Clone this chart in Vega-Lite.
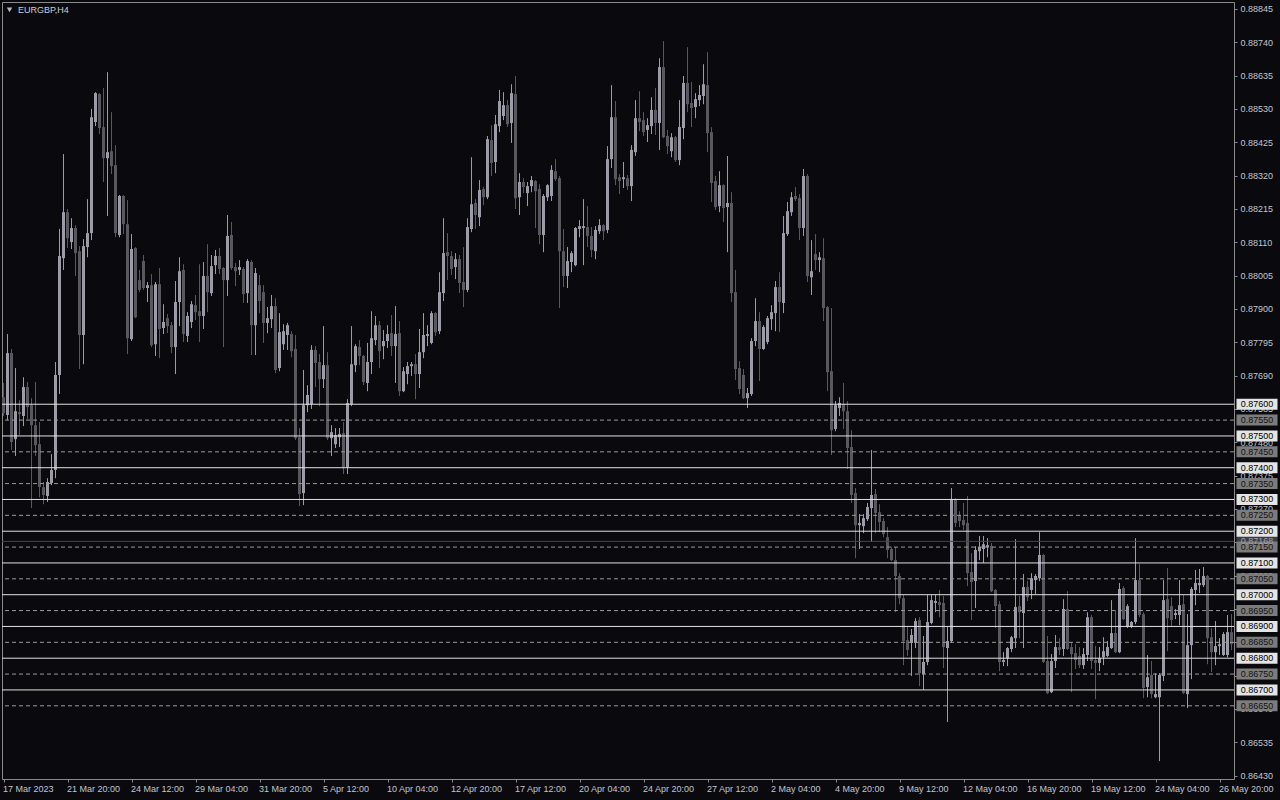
{
"$schema": "https://vega.github.io/schema/vega-lite/v6.json",
"width": 1232, "height": 777,
"autosize": {"type": "none"},
"padding": {"left": 2, "top": 2, "right": 46, "bottom": 21},
"background": "#0a0a0e",
"config": {
 "view": {"stroke": "#8a8a8a", "fill": "#0a0a0e"},
 "font": "Liberation Sans",
 "scale": {"continuousPadding": 0},
 "axis": {"labelOverlap": false, "labelFlush": false, "labelBound": false, "labelFontSize": 9, "labelColor": "#c0c6d0", "tickSize": 3, "tickColor": "#8a8a8a", "domain": false, "grid": false}
},
"datasets": {
"k": [
{"i":0,"o":0.87622,"h":0.87667,"l":0.87563,"c":0.87572},
{"i":1,"o":0.87566,"h":0.87821,"l":0.87550,"c":0.87761},
{"i":2,"o":0.87761,"h":0.87774,"l":0.87456,"c":0.87481},
{"i":3,"o":0.87490,"h":0.87714,"l":0.87437,"c":0.87578},
{"i":4,"o":0.87575,"h":0.87613,"l":0.87503,"c":0.87569},
{"i":5,"o":0.87563,"h":0.87685,"l":0.87531,"c":0.87654},
{"i":6,"o":0.87654,"h":0.87670,"l":0.87553,"c":0.87591},
{"i":7,"o":0.87597,"h":0.87619,"l":0.87273,"c":0.87534},
{"i":8,"o":0.87534,"h":0.87670,"l":0.87437,"c":0.87471},
{"i":9,"o":0.87474,"h":0.87544,"l":0.87307,"c":0.87339},
{"i":10,"o":0.87339,"h":0.87355,"l":0.87285,"c":0.87314},
{"i":11,"o":0.87311,"h":0.87367,"l":0.87292,"c":0.87355},
{"i":12,"o":0.87352,"h":0.87443,"l":0.87345,"c":0.87393},
{"i":13,"o":0.87393,"h":0.87733,"l":0.87367,"c":0.87692},
{"i":14,"o":0.87692,"h":0.88152,"l":0.87632,"c":0.88067},
{"i":15,"o":0.88060,"h":0.88388,"l":0.88023,"c":0.88205},
{"i":16,"o":0.88205,"h":0.88215,"l":0.88092,"c":0.88123},
{"i":17,"o":0.88111,"h":0.88186,"l":0.88089,"c":0.88155},
{"i":18,"o":0.88155,"h":0.88164,"l":0.88004,"c":0.88076},
{"i":19,"o":0.88082,"h":0.88098,"l":0.87711,"c":0.87818},
{"i":20,"o":0.87818,"h":0.88120,"l":0.87726,"c":0.88098},
{"i":21,"o":0.88095,"h":0.88246,"l":0.88063,"c":0.88139},
{"i":22,"o":0.88139,"h":0.88530,"l":0.88117,"c":0.88504},
{"i":23,"o":0.88489,"h":0.88583,"l":0.88476,"c":0.88580},
{"i":24,"o":0.88577,"h":0.88580,"l":0.88451,"c":0.88470},
{"i":25,"o":0.88473,"h":0.88596,"l":0.88300,"c":0.88375},
{"i":26,"o":0.88375,"h":0.88646,"l":0.88193,"c":0.88394},
{"i":27,"o":0.88397,"h":0.88520,"l":0.88325,"c":0.88350},
{"i":28,"o":0.88353,"h":0.88416,"l":0.88126,"c":0.88139},
{"i":29,"o":0.88133,"h":0.88259,"l":0.88126,"c":0.88256},
{"i":30,"o":0.88256,"h":0.88259,"l":0.88136,"c":0.88167},
{"i":31,"o":0.88167,"h":0.88243,"l":0.87758,"c":0.87808},
{"i":32,"o":0.87805,"h":0.88136,"l":0.87799,"c":0.88089},
{"i":33,"o":0.88092,"h":0.88095,"l":0.87871,"c":0.87874},
{"i":34,"o":0.87991,"h":0.88023,"l":0.87953,"c":0.87960},
{"i":35,"o":0.88051,"h":0.88070,"l":0.87960,"c":0.87966},
{"i":36,"o":0.87966,"h":0.87985,"l":0.87922,"c":0.87975},
{"i":37,"o":0.87975,"h":0.88010,"l":0.87780,"c":0.87786},
{"i":38,"o":0.87789,"h":0.87985,"l":0.87752,"c":0.87978},
{"i":39,"o":0.87978,"h":0.88029,"l":0.87745,"c":0.87837},
{"i":40,"o":0.87840,"h":0.87915,"l":0.87821,"c":0.87859},
{"i":41,"o":0.87871,"h":0.87884,"l":0.87824,"c":0.87846},
{"i":42,"o":0.87849,"h":0.87859,"l":0.87761,"c":0.87780},
{"i":43,"o":0.87780,"h":0.87988,"l":0.87695,"c":0.87922},
{"i":44,"o":0.87922,"h":0.88063,"l":0.87846,"c":0.88019},
{"i":45,"o":0.88023,"h":0.88041,"l":0.87796,"c":0.87821},
{"i":46,"o":0.87815,"h":0.87890,"l":0.87796,"c":0.87878},
{"i":47,"o":0.87859,"h":0.87925,"l":0.87840,"c":0.87915},
{"i":48,"o":0.87912,"h":0.87944,"l":0.87865,"c":0.87890},
{"i":49,"o":0.87893,"h":0.88041,"l":0.87796,"c":0.87878},
{"i":50,"o":0.87878,"h":0.88048,"l":0.87837,"c":0.88004},
{"i":51,"o":0.88004,"h":0.88104,"l":0.87890,"c":0.87953},
{"i":52,"o":0.87950,"h":0.88070,"l":0.87941,"c":0.88035},
{"i":53,"o":0.88038,"h":0.88086,"l":0.88010,"c":0.88067},
{"i":54,"o":0.88067,"h":0.88092,"l":0.88010,"c":0.88026},
{"i":55,"o":0.88029,"h":0.88032,"l":0.87780,"c":0.87991},
{"i":56,"o":0.87991,"h":0.88196,"l":0.87941,"c":0.88130},
{"i":57,"o":0.88133,"h":0.88174,"l":0.88023,"c":0.88029},
{"i":58,"o":0.88032,"h":0.88045,"l":0.87972,"c":0.88019},
{"i":59,"o":0.88023,"h":0.88054,"l":0.88007,"c":0.88032},
{"i":60,"o":0.88026,"h":0.88032,"l":0.87919,"c":0.87947},
{"i":61,"o":0.87950,"h":0.88057,"l":0.87919,"c":0.88051},
{"i":62,"o":0.88048,"h":0.88054,"l":0.87755,"c":0.87849},
{"i":63,"o":0.87849,"h":0.88029,"l":0.87755,"c":0.88013},
{"i":64,"o":0.87975,"h":0.88007,"l":0.87887,"c":0.87925},
{"i":65,"o":0.87953,"h":0.87975,"l":0.87793,"c":0.87856},
{"i":66,"o":0.87856,"h":0.87906,"l":0.87824,"c":0.87871},
{"i":67,"o":0.87868,"h":0.87944,"l":0.87840,"c":0.87909},
{"i":68,"o":0.87909,"h":0.87934,"l":0.87698,"c":0.87708},
{"i":69,"o":0.87714,"h":0.87887,"l":0.87704,"c":0.87827},
{"i":70,"o":0.87789,"h":0.87852,"l":0.87771,"c":0.87830},
{"i":71,"o":0.87818,"h":0.87856,"l":0.87771,"c":0.87849},
{"i":72,"o":0.87821,"h":0.87830,"l":0.87748,"c":0.87767},
{"i":73,"o":0.87774,"h":0.87818,"l":0.87487,"c":0.87493},
{"i":74,"o":0.87496,"h":0.87525,"l":0.87279,"c":0.87317},
{"i":75,"o":0.87320,"h":0.87708,"l":0.87282,"c":0.87597},
{"i":76,"o":0.87597,"h":0.87660,"l":0.87575,"c":0.87629},
{"i":77,"o":0.87600,"h":0.87786,"l":0.87585,"c":0.87771},
{"i":78,"o":0.87771,"h":0.87783,"l":0.87654,"c":0.87730},
{"i":79,"o":0.87733,"h":0.87758,"l":0.87594,"c":0.87679},
{"i":80,"o":0.87679,"h":0.87846,"l":0.87651,"c":0.87723},
{"i":81,"o":0.87723,"h":0.87764,"l":0.87487,"c":0.87493},
{"i":82,"o":0.87493,"h":0.87534,"l":0.87437,"c":0.87512},
{"i":83,"o":0.87474,"h":0.87525,"l":0.87462,"c":0.87503},
{"i":84,"o":0.87496,"h":0.87525,"l":0.87465,"c":0.87506},
{"i":85,"o":0.87509,"h":0.87544,"l":0.87380,"c":0.87402},
{"i":86,"o":0.87402,"h":0.87616,"l":0.87380,"c":0.87604},
{"i":87,"o":0.87600,"h":0.87846,"l":0.87594,"c":0.87726},
{"i":88,"o":0.87723,"h":0.87789,"l":0.87701,"c":0.87783},
{"i":89,"o":0.87780,"h":0.87802,"l":0.87723,"c":0.87752},
{"i":90,"o":0.87752,"h":0.87755,"l":0.87660,"c":0.87670},
{"i":91,"o":0.87667,"h":0.87793,"l":0.87641,"c":0.87733},
{"i":92,"o":0.87733,"h":0.87893,"l":0.87695,"c":0.87808},
{"i":93,"o":0.87802,"h":0.87878,"l":0.87786,"c":0.87849},
{"i":94,"o":0.87849,"h":0.87862,"l":0.87714,"c":0.87767},
{"i":95,"o":0.87783,"h":0.87834,"l":0.87742,"c":0.87799},
{"i":96,"o":0.87799,"h":0.87849,"l":0.87777,"c":0.87821},
{"i":97,"o":0.87824,"h":0.87881,"l":0.87752,"c":0.87783},
{"i":98,"o":0.87783,"h":0.87909,"l":0.87667,"c":0.87821},
{"i":99,"o":0.87824,"h":0.87862,"l":0.87626,"c":0.87641},
{"i":100,"o":0.87641,"h":0.87717,"l":0.87638,"c":0.87704},
{"i":101,"o":0.87695,"h":0.87733,"l":0.87663,"c":0.87720},
{"i":102,"o":0.87720,"h":0.87733,"l":0.87689,"c":0.87726},
{"i":103,"o":0.87726,"h":0.87758,"l":0.87616,"c":0.87695},
{"i":104,"o":0.87695,"h":0.87837,"l":0.87651,"c":0.87764},
{"i":105,"o":0.87764,"h":0.87887,"l":0.87745,"c":0.87818},
{"i":106,"o":0.87815,"h":0.87849,"l":0.87783,"c":0.87821},
{"i":107,"o":0.87793,"h":0.87893,"l":0.87789,"c":0.87887},
{"i":108,"o":0.87887,"h":0.87890,"l":0.87815,"c":0.87827},
{"i":109,"o":0.87830,"h":0.88016,"l":0.87821,"c":0.87953},
{"i":110,"o":0.87950,"h":0.88186,"l":0.87925,"c":0.88076},
{"i":111,"o":0.88079,"h":0.88139,"l":0.87991,"c":0.88067},
{"i":112,"o":0.88067,"h":0.88082,"l":0.88007,"c":0.88026},
{"i":113,"o":0.88032,"h":0.88076,"l":0.87994,"c":0.88057},
{"i":114,"o":0.88057,"h":0.88070,"l":0.87950,"c":0.87982},
{"i":115,"o":0.87985,"h":0.88095,"l":0.87906,"c":0.87960},
{"i":116,"o":0.87960,"h":0.88186,"l":0.87953,"c":0.88158},
{"i":117,"o":0.88152,"h":0.88378,"l":0.88142,"c":0.88230},
{"i":118,"o":0.88234,"h":0.88246,"l":0.88152,"c":0.88196},
{"i":119,"o":0.88189,"h":0.88306,"l":0.88161,"c":0.88275},
{"i":120,"o":0.88278,"h":0.88284,"l":0.88227,"c":0.88252},
{"i":121,"o":0.88252,"h":0.88445,"l":0.88246,"c":0.88435},
{"i":122,"o":0.88432,"h":0.88479,"l":0.88319,"c":0.88360},
{"i":123,"o":0.88363,"h":0.88511,"l":0.88328,"c":0.88482},
{"i":124,"o":0.88476,"h":0.88590,"l":0.88457,"c":0.88555},
{"i":125,"o":0.88508,"h":0.88583,"l":0.88495,"c":0.88542},
{"i":126,"o":0.88542,"h":0.88558,"l":0.88473,"c":0.88482},
{"i":127,"o":0.88486,"h":0.88608,"l":0.88423,"c":0.88580},
{"i":128,"o":0.88577,"h":0.88634,"l":0.88215,"c":0.88249},
{"i":129,"o":0.88252,"h":0.88328,"l":0.88196,"c":0.88300},
{"i":130,"o":0.88300,"h":0.88312,"l":0.88265,"c":0.88284},
{"i":131,"o":0.88265,"h":0.88300,"l":0.88224,"c":0.88287},
{"i":132,"o":0.88287,"h":0.88319,"l":0.88268,"c":0.88306},
{"i":133,"o":0.88303,"h":0.88306,"l":0.88155,"c":0.88271},
{"i":134,"o":0.88278,"h":0.88293,"l":0.88104,"c":0.88133},
{"i":135,"o":0.88133,"h":0.88262,"l":0.88079,"c":0.88256},
{"i":136,"o":0.88252,"h":0.88293,"l":0.88240,"c":0.88290},
{"i":137,"o":0.88256,"h":0.88353,"l":0.88240,"c":0.88338},
{"i":138,"o":0.88334,"h":0.88372,"l":0.88303,"c":0.88309},
{"i":139,"o":0.88312,"h":0.88319,"l":0.87903,"c":0.88082},
{"i":140,"o":0.88082,"h":0.88152,"l":0.87969,"c":0.88004},
{"i":141,"o":0.88004,"h":0.88095,"l":0.87966,"c":0.88051},
{"i":142,"o":0.88048,"h":0.88082,"l":0.88016,"c":0.88076},
{"i":143,"o":0.88038,"h":0.88158,"l":0.88035,"c":0.88155},
{"i":144,"o":0.88152,"h":0.88180,"l":0.88126,"c":0.88161},
{"i":145,"o":0.88155,"h":0.88246,"l":0.88038,"c":0.88161},
{"i":146,"o":0.88158,"h":0.88224,"l":0.88095,"c":0.88130},
{"i":147,"o":0.88130,"h":0.88158,"l":0.88063,"c":0.88086},
{"i":148,"o":0.88082,"h":0.88161,"l":0.88057,"c":0.88149},
{"i":149,"o":0.88145,"h":0.88183,"l":0.88136,"c":0.88164},
{"i":150,"o":0.88164,"h":0.88167,"l":0.88117,"c":0.88145},
{"i":151,"o":0.88149,"h":0.88413,"l":0.88139,"c":0.88372},
{"i":152,"o":0.88372,"h":0.88605,"l":0.88344,"c":0.88504},
{"i":153,"o":0.88504,"h":0.88555,"l":0.88290,"c":0.88309},
{"i":154,"o":0.88315,"h":0.88325,"l":0.88262,"c":0.88303},
{"i":155,"o":0.88309,"h":0.88363,"l":0.88281,"c":0.88315},
{"i":156,"o":0.88312,"h":0.88322,"l":0.88275,"c":0.88287},
{"i":157,"o":0.88287,"h":0.88416,"l":0.88240,"c":0.88401},
{"i":158,"o":0.88394,"h":0.88558,"l":0.88382,"c":0.88501},
{"i":159,"o":0.88501,"h":0.88586,"l":0.88460,"c":0.88489},
{"i":160,"o":0.88495,"h":0.88520,"l":0.88445,"c":0.88457},
{"i":161,"o":0.88464,"h":0.88501,"l":0.88426,"c":0.88479},
{"i":162,"o":0.88476,"h":0.88567,"l":0.88451,"c":0.88527},
{"i":163,"o":0.88527,"h":0.88596,"l":0.88448,"c":0.88486},
{"i":164,"o":0.88486,"h":0.88690,"l":0.88401,"c":0.88662},
{"i":165,"o":0.88662,"h":0.88744,"l":0.88438,"c":0.88441},
{"i":166,"o":0.88445,"h":0.88464,"l":0.88388,"c":0.88413},
{"i":167,"o":0.88397,"h":0.88454,"l":0.88378,"c":0.88441},
{"i":168,"o":0.88441,"h":0.88445,"l":0.88363,"c":0.88369},
{"i":169,"o":0.88369,"h":0.88558,"l":0.88353,"c":0.88473},
{"i":170,"o":0.88470,"h":0.88634,"l":0.88435,"c":0.88612},
{"i":171,"o":0.88612,"h":0.88725,"l":0.88520,"c":0.88545},
{"i":172,"o":0.88549,"h":0.88615,"l":0.88473,"c":0.88533},
{"i":173,"o":0.88536,"h":0.88580,"l":0.88501,"c":0.88561},
{"i":174,"o":0.88558,"h":0.88605,"l":0.88539,"c":0.88574},
{"i":175,"o":0.88571,"h":0.88671,"l":0.88545,"c":0.88608},
{"i":176,"o":0.88605,"h":0.88709,"l":0.88394,"c":0.88454},
{"i":177,"o":0.88457,"h":0.88473,"l":0.88237,"c":0.88297},
{"i":178,"o":0.88303,"h":0.88319,"l":0.88212,"c":0.88221},
{"i":179,"o":0.88224,"h":0.88334,"l":0.88205,"c":0.88290},
{"i":180,"o":0.88290,"h":0.88293,"l":0.88174,"c":0.88218},
{"i":181,"o":0.88221,"h":0.88382,"l":0.88079,"c":0.88234},
{"i":182,"o":0.88234,"h":0.88268,"l":0.87922,"c":0.87950},
{"i":183,"o":0.87953,"h":0.88023,"l":0.87676,"c":0.87711},
{"i":184,"o":0.87714,"h":0.87736,"l":0.87632,"c":0.87648},
{"i":185,"o":0.87692,"h":0.87711,"l":0.87616,"c":0.87619},
{"i":186,"o":0.87619,"h":0.87651,"l":0.87588,"c":0.87635},
{"i":187,"o":0.87632,"h":0.87808,"l":0.87626,"c":0.87799},
{"i":188,"o":0.87799,"h":0.87934,"l":0.87783,"c":0.87862},
{"i":189,"o":0.87862,"h":0.87890,"l":0.87673,"c":0.87774},
{"i":190,"o":0.87774,"h":0.87849,"l":0.87771,"c":0.87843},
{"i":191,"o":0.87796,"h":0.87878,"l":0.87789,"c":0.87871},
{"i":192,"o":0.87868,"h":0.87912,"l":0.87834,"c":0.87890},
{"i":193,"o":0.87887,"h":0.87988,"l":0.87830,"c":0.87969},
{"i":194,"o":0.87969,"h":0.88016,"l":0.87827,"c":0.87922},
{"i":195,"o":0.87919,"h":0.88193,"l":0.87887,"c":0.88139},
{"i":196,"o":0.88136,"h":0.88237,"l":0.88130,"c":0.88208},
{"i":197,"o":0.88205,"h":0.88268,"l":0.88193,"c":0.88252},
{"i":198,"o":0.88256,"h":0.88284,"l":0.88240,"c":0.88246},
{"i":199,"o":0.88249,"h":0.88262,"l":0.88117,"c":0.88155},
{"i":200,"o":0.88155,"h":0.88341,"l":0.88130,"c":0.88319},
{"i":201,"o":0.88319,"h":0.88325,"l":0.87985,"c":0.88004},
{"i":202,"o":0.88000,"h":0.88117,"l":0.87944,"c":0.88019},
{"i":203,"o":0.88073,"h":0.88136,"l":0.88023,"c":0.88054},
{"i":204,"o":0.88054,"h":0.88079,"l":0.88016,"c":0.88063},
{"i":205,"o":0.88060,"h":0.88123,"l":0.87862,"c":0.87903},
{"i":206,"o":0.87906,"h":0.87909,"l":0.87641,"c":0.87701},
{"i":207,"o":0.87704,"h":0.87903,"l":0.87440,"c":0.87518},
{"i":208,"o":0.87522,"h":0.87610,"l":0.87515,"c":0.87597},
{"i":209,"o":0.87588,"h":0.87622,"l":0.87563,"c":0.87604},
{"i":210,"o":0.87600,"h":0.87667,"l":0.87522,"c":0.87578},
{"i":211,"o":0.87578,"h":0.87610,"l":0.87396,"c":0.87462},
{"i":212,"o":0.87465,"h":0.87518,"l":0.87289,"c":0.87314},
{"i":213,"o":0.87320,"h":0.87336,"l":0.87115,"c":0.87219},
{"i":214,"o":0.87219,"h":0.87254,"l":0.87144,"c":0.87226},
{"i":215,"o":0.87216,"h":0.87254,"l":0.87194,"c":0.87241},
{"i":216,"o":0.87238,"h":0.87289,"l":0.87232,"c":0.87276},
{"i":217,"o":0.87273,"h":0.87456,"l":0.87166,"c":0.87314},
{"i":218,"o":0.87317,"h":0.87333,"l":0.87194,"c":0.87257},
{"i":219,"o":0.87260,"h":0.87285,"l":0.87197,"c":0.87229},
{"i":220,"o":0.87232,"h":0.87241,"l":0.87181,"c":0.87191},
{"i":221,"o":0.87181,"h":0.87213,"l":0.87115,"c":0.87141},
{"i":222,"o":0.87144,"h":0.87150,"l":0.87106,"c":0.87109},
{"i":223,"o":0.87109,"h":0.87150,"l":0.86945,"c":0.87059},
{"i":224,"o":0.87059,"h":0.87068,"l":0.86970,"c":0.86989},
{"i":225,"o":0.86989,"h":0.86999,"l":0.86778,"c":0.86854},
{"i":226,"o":0.86857,"h":0.86898,"l":0.86807,"c":0.86826},
{"i":227,"o":0.86848,"h":0.86892,"l":0.86744,"c":0.86873},
{"i":228,"o":0.86848,"h":0.86926,"l":0.86832,"c":0.86917},
{"i":229,"o":0.86920,"h":0.86929,"l":0.86712,"c":0.86753},
{"i":230,"o":0.86750,"h":0.86870,"l":0.86700,"c":0.86788},
{"i":231,"o":0.86788,"h":0.86999,"l":0.86778,"c":0.86914},
{"i":232,"o":0.86911,"h":0.86999,"l":0.86907,"c":0.86983},
{"i":233,"o":0.86974,"h":0.86999,"l":0.86945,"c":0.86980},
{"i":234,"o":0.86977,"h":0.87015,"l":0.86929,"c":0.86967},
{"i":235,"o":0.86974,"h":0.86996,"l":0.86769,"c":0.86835},
{"i":236,"o":0.86832,"h":0.86898,"l":0.86599,"c":0.86854},
{"i":237,"o":0.86854,"h":0.87336,"l":0.86848,"c":0.87301},
{"i":238,"o":0.87301,"h":0.87304,"l":0.87213,"c":0.87226},
{"i":239,"o":0.87251,"h":0.87263,"l":0.87213,"c":0.87232},
{"i":240,"o":0.87235,"h":0.87289,"l":0.87204,"c":0.87219},
{"i":241,"o":0.87226,"h":0.87311,"l":0.87027,"c":0.87068},
{"i":242,"o":0.87071,"h":0.87131,"l":0.86920,"c":0.87040},
{"i":243,"o":0.87043,"h":0.87153,"l":0.86958,"c":0.87141},
{"i":244,"o":0.87137,"h":0.87185,"l":0.87109,"c":0.87150},
{"i":245,"o":0.87144,"h":0.87185,"l":0.87100,"c":0.87159},
{"i":246,"o":0.87150,"h":0.87178,"l":0.87118,"c":0.87156},
{"i":247,"o":0.87153,"h":0.87163,"l":0.87008,"c":0.87011},
{"i":248,"o":0.87015,"h":0.87018,"l":0.86895,"c":0.86964},
{"i":249,"o":0.86970,"h":0.86980,"l":0.86759,"c":0.86788},
{"i":250,"o":0.86788,"h":0.86819,"l":0.86775,"c":0.86794},
{"i":251,"o":0.86800,"h":0.86835,"l":0.86775,"c":0.86832},
{"i":252,"o":0.86829,"h":0.86870,"l":0.86819,"c":0.86866},
{"i":253,"o":0.86863,"h":0.87175,"l":0.86832,"c":0.86961},
{"i":254,"o":0.86964,"h":0.86996,"l":0.86863,"c":0.86945},
{"i":255,"o":0.86942,"h":0.87065,"l":0.86832,"c":0.87024},
{"i":256,"o":0.87024,"h":0.87043,"l":0.86980,"c":0.86992},
{"i":257,"o":0.87015,"h":0.87068,"l":0.86986,"c":0.87052},
{"i":258,"o":0.87046,"h":0.87065,"l":0.87002,"c":0.87059},
{"i":259,"o":0.87052,"h":0.87197,"l":0.87043,"c":0.87125},
{"i":260,"o":0.87125,"h":0.87128,"l":0.86785,"c":0.86788},
{"i":261,"o":0.86791,"h":0.86870,"l":0.86687,"c":0.86690},
{"i":262,"o":0.86693,"h":0.86813,"l":0.86690,"c":0.86791},
{"i":263,"o":0.86791,"h":0.86873,"l":0.86769,"c":0.86835},
{"i":264,"o":0.86835,"h":0.86863,"l":0.86810,"c":0.86826},
{"i":265,"o":0.86829,"h":0.86986,"l":0.86807,"c":0.86955},
{"i":266,"o":0.86955,"h":0.87011,"l":0.86826,"c":0.86829},
{"i":267,"o":0.86835,"h":0.86851,"l":0.86693,"c":0.86813},
{"i":268,"o":0.86816,"h":0.86844,"l":0.86766,"c":0.86794},
{"i":269,"o":0.86807,"h":0.86835,"l":0.86769,"c":0.86778},
{"i":270,"o":0.86778,"h":0.86832,"l":0.86766,"c":0.86813},
{"i":271,"o":0.86810,"h":0.86945,"l":0.86791,"c":0.86929},
{"i":272,"o":0.86929,"h":0.86936,"l":0.86766,"c":0.86791},
{"i":273,"o":0.86794,"h":0.86838,"l":0.86671,"c":0.86785},
{"i":274,"o":0.86785,"h":0.86835,"l":0.86759,"c":0.86800},
{"i":275,"o":0.86803,"h":0.86866,"l":0.86778,"c":0.86822},
{"i":276,"o":0.86807,"h":0.86854,"l":0.86803,"c":0.86835},
{"i":277,"o":0.86832,"h":0.86983,"l":0.86829,"c":0.86879},
{"i":278,"o":0.86879,"h":0.86952,"l":0.86816,"c":0.86819},
{"i":279,"o":0.86819,"h":0.87037,"l":0.86816,"c":0.87018},
{"i":280,"o":0.87021,"h":0.87027,"l":0.86920,"c":0.86923},
{"i":281,"o":0.86901,"h":0.86970,"l":0.86895,"c":0.86964},
{"i":282,"o":0.86901,"h":0.86917,"l":0.86895,"c":0.86914},
{"i":283,"o":0.86914,"h":0.87178,"l":0.86907,"c":0.87046},
{"i":284,"o":0.87046,"h":0.87096,"l":0.86929,"c":0.86936},
{"i":285,"o":0.86939,"h":0.86945,"l":0.86674,"c":0.86706},
{"i":286,"o":0.86709,"h":0.86810,"l":0.86677,"c":0.86740},
{"i":287,"o":0.86747,"h":0.86791,"l":0.86674,"c":0.86687},
{"i":288,"o":0.86677,"h":0.86753,"l":0.86674,"c":0.86687},
{"i":289,"o":0.86677,"h":0.86753,"l":0.86476,"c":0.86747},
{"i":290,"o":0.86744,"h":0.87046,"l":0.86728,"c":0.86983},
{"i":291,"o":0.86986,"h":0.87084,"l":0.86822,"c":0.86926},
{"i":292,"o":0.86964,"h":0.86992,"l":0.86901,"c":0.86920},
{"i":293,"o":0.86936,"h":0.86955,"l":0.86923,"c":0.86942},
{"i":294,"o":0.86936,"h":0.87046,"l":0.86904,"c":0.86967},
{"i":295,"o":0.86970,"h":0.86999,"l":0.86687,"c":0.86690},
{"i":296,"o":0.86687,"h":0.86939,"l":0.86643,"c":0.86841},
{"i":297,"o":0.86841,"h":0.87024,"l":0.86734,"c":0.87018},
{"i":298,"o":0.87015,"h":0.87078,"l":0.86967,"c":0.87037},
{"i":299,"o":0.87030,"h":0.87081,"l":0.87005,"c":0.87037},
{"i":300,"o":0.87030,"h":0.87087,"l":0.87024,"c":0.87059},
{"i":301,"o":0.87059,"h":0.87062,"l":0.86781,"c":0.86863},
{"i":302,"o":0.86866,"h":0.86895,"l":0.86756,"c":0.86819},
{"i":303,"o":0.86819,"h":0.86917,"l":0.86778,"c":0.86838},
{"i":304,"o":0.86838,"h":0.86863,"l":0.86810,"c":0.86844},
{"i":305,"o":0.86810,"h":0.86882,"l":0.86807,"c":0.86876},
{"i":306,"o":0.86810,"h":0.86936,"l":0.86803,"c":0.86882},
{"i":307,"o":0.86882,"h":0.86939,"l":0.86826,"c":0.86844}
],
"lv": [
{"v":0.87168,"k":"price"},
{"v":0.876,"k":"solid"},{"v":0.8755,"k":"dash"},
{"v":0.875,"k":"solid"},{"v":0.8745,"k":"dash"},
{"v":0.874,"k":"solid"},{"v":0.8735,"k":"dash"},
{"v":0.873,"k":"solid"},{"v":0.8725,"k":"dash"},
{"v":0.872,"k":"solid"},{"v":0.8715,"k":"dash"},
{"v":0.871,"k":"solid"},{"v":0.8705,"k":"dash"},
{"v":0.870,"k":"solid"},{"v":0.8695,"k":"dash"},
{"v":0.869,"k":"solid"},{"v":0.8685,"k":"dash"},
{"v":0.868,"k":"solid"},{"v":0.8675,"k":"dash"},
{"v":0.867,"k":"solid"},{"v":0.8665,"k":"dash"}
]
},
"layer": [
{"data": {"name": "k"},
 "mark": {"type": "rule", "strokeWidth": 1},
 "encoding": {
  "x": {"field": "i", "type": "quantitative", "title": null, "scale": {"domain": [-0.375, 307.625], "nice": false, "zero": false, "padding": 0},
   "axis": {"orient": "bottom", "values": [0,16,32,48,64,80,96,112,128,144,160,176,192,208,224,240,256,272,288,304], "labelExpr": "['17 Mar 2023','21 Mar 20:00','24 Mar 12:00','29 Mar 04:00','31 Mar 20:00','5 Apr 12:00','10 Apr 04:00','12 Apr 20:00','17 Apr 12:00','20 Apr 04:00','24 Apr 20:00','27 Apr 12:00','2 May 04:00','4 May 20:00','9 May 12:00','12 May 04:00','16 May 20:00','19 May 12:00','24 May 04:00','26 May 20:00'][round(datum.value/16)]", "labelAlign": "left", "labelBaseline": "top", "labelPadding": 2, "labelOffset": -1, "title": null, "zindex": 1}},
  "y": {"field": "l", "type": "quantitative", "title": null, "scale": {"domain": [0.8641945, 0.88867], "nice": false, "zero": false, "padding": 0},
   "axis": {"orient": "right", "values": [0.88845,0.8874,0.88635,0.8853,0.88425,0.8832,0.88215,0.8811,0.88005,0.879,0.87795,0.8769,0.87585,0.8748,0.87375,0.8727,0.87165,0.8706,0.86955,0.8685,0.86745,0.8664,0.86535,0.8643], "format": ".5f", "labelAlign": "left", "labelBaseline": "middle", "labelPadding": 3, "title": null, "zindex": 0}},
  "y2": {"field": "h"},
  "color": {"condition": {"test": "datum.c >= datum.o", "value": "#9c9ca8"}, "value": "#58585e"}
 }},
{"data": {"name": "k"},
 "mark": {"type": "bar", "width": 3, "opacity": 1},
 "encoding": {
  "x": {"field": "i", "type": "quantitative", "title": null, "scale": {"domain": [-0.375, 307.625], "nice": false, "zero": false, "padding": 0},
   "axis": {"orient": "bottom", "values": [0,16,32,48,64,80,96,112,128,144,160,176,192,208,224,240,256,272,288,304], "labelExpr": "['17 Mar 2023','21 Mar 20:00','24 Mar 12:00','29 Mar 04:00','31 Mar 20:00','5 Apr 12:00','10 Apr 04:00','12 Apr 20:00','17 Apr 12:00','20 Apr 04:00','24 Apr 20:00','27 Apr 12:00','2 May 04:00','4 May 20:00','9 May 12:00','12 May 04:00','16 May 20:00','19 May 12:00','24 May 04:00','26 May 20:00'][round(datum.value/16)]", "labelAlign": "left", "labelBaseline": "top", "labelPadding": 2, "labelOffset": -1, "title": null, "zindex": 1}},
  "y": {"field": "o", "type": "quantitative", "title": null, "scale": {"domain": [0.8641945, 0.88867], "nice": false, "zero": false, "padding": 0},
   "axis": {"orient": "right", "values": [0.88845,0.8874,0.88635,0.8853,0.88425,0.8832,0.88215,0.8811,0.88005,0.879,0.87795,0.8769,0.87585,0.8748,0.87375,0.8727,0.87165,0.8706,0.86955,0.8685,0.86745,0.8664,0.86535,0.8643], "format": ".5f", "labelAlign": "left", "labelBaseline": "middle", "labelPadding": 3, "title": null, "zindex": 0}},
  "y2": {"field": "c"},
  "color": {"condition": {"test": "datum.c >= datum.o", "value": "#9c9ca8"}, "value": "#58585e"}
 }},
{"data": {"name": "lv"},
 "mark": {"type": "rule", "strokeWidth": 1},
 "encoding": {
  "y": {"field": "v", "type": "quantitative", "title": null, "scale": {"domain": [0.8641945, 0.88867], "nice": false, "zero": false, "padding": 0},
   "axis": {"orient": "right", "values": [0.88845,0.8874,0.88635,0.8853,0.88425,0.8832,0.88215,0.8811,0.88005,0.879,0.87795,0.8769,0.87585,0.8748,0.87375,0.8727,0.87165,0.8706,0.86955,0.8685,0.86745,0.8664,0.86535,0.8643], "format": ".5f", "labelAlign": "left", "labelBaseline": "middle", "labelPadding": 3, "title": null, "zindex": 0}},
  "color": {"condition": [{"test": "datum.k == 'solid'", "value": "#e2e2e2"}, {"test": "datum.k == 'dash'", "value": "#9a9a9a"}], "value": "#45454d"},
  "strokeDash": {"condition": {"test": "datum.k == 'dash'", "value": [4, 3]}, "value": [1, 0]}
 }},
{"data": {"name": "lv"},
 "mark": {"type": "tick", "orient": "horizontal", "size": 41, "thickness": 11, "opacity": 1},
 "encoding": {
  "x": {"datum": 313.375, "type": "quantitative", "title": null, "scale": {"domain": [-0.375, 307.625], "nice": false, "zero": false, "padding": 0},
   "axis": {"orient": "bottom", "values": [0,16,32,48,64,80,96,112,128,144,160,176,192,208,224,240,256,272,288,304], "labelExpr": "['17 Mar 2023','21 Mar 20:00','24 Mar 12:00','29 Mar 04:00','31 Mar 20:00','5 Apr 12:00','10 Apr 04:00','12 Apr 20:00','17 Apr 12:00','20 Apr 04:00','24 Apr 20:00','27 Apr 12:00','2 May 04:00','4 May 20:00','9 May 12:00','12 May 04:00','16 May 20:00','19 May 12:00','24 May 04:00','26 May 20:00'][round(datum.value/16)]", "labelAlign": "left", "labelBaseline": "top", "labelPadding": 2, "labelOffset": -1, "title": null, "zindex": 1}},
  "y": {"field": "v", "type": "quantitative", "title": null, "scale": {"domain": [0.8641945, 0.88867], "nice": false, "zero": false, "padding": 0},
   "axis": {"orient": "right", "values": [0.88845,0.8874,0.88635,0.8853,0.88425,0.8832,0.88215,0.8811,0.88005,0.879,0.87795,0.8769,0.87585,0.8748,0.87375,0.8727,0.87165,0.8706,0.86955,0.8685,0.86745,0.8664,0.86535,0.8643], "format": ".5f", "labelAlign": "left", "labelBaseline": "middle", "labelPadding": 3, "title": null, "zindex": 0}},
  "color": {"condition": [{"test": "datum.k == 'solid'", "value": "#e4e4e4"}, {"test": "datum.k == 'dash'", "value": "#7c7c7c"}], "value": "#3c3c44"}
 }},
{"data": {"name": "lv"},
 "mark": {"type": "text", "fontSize": 9, "align": "center", "baseline": "middle"},
 "encoding": {
  "x": {"datum": 313.375, "type": "quantitative", "title": null, "scale": {"domain": [-0.375, 307.625], "nice": false, "zero": false, "padding": 0},
   "axis": {"orient": "bottom", "values": [0,16,32,48,64,80,96,112,128,144,160,176,192,208,224,240,256,272,288,304], "labelExpr": "['17 Mar 2023','21 Mar 20:00','24 Mar 12:00','29 Mar 04:00','31 Mar 20:00','5 Apr 12:00','10 Apr 04:00','12 Apr 20:00','17 Apr 12:00','20 Apr 04:00','24 Apr 20:00','27 Apr 12:00','2 May 04:00','4 May 20:00','9 May 12:00','12 May 04:00','16 May 20:00','19 May 12:00','24 May 04:00','26 May 20:00'][round(datum.value/16)]", "labelAlign": "left", "labelBaseline": "top", "labelPadding": 2, "labelOffset": -1, "title": null, "zindex": 1}},
  "y": {"field": "v", "type": "quantitative", "title": null, "scale": {"domain": [0.8641945, 0.88867], "nice": false, "zero": false, "padding": 0},
   "axis": {"orient": "right", "values": [0.88845,0.8874,0.88635,0.8853,0.88425,0.8832,0.88215,0.8811,0.88005,0.879,0.87795,0.8769,0.87585,0.8748,0.87375,0.8727,0.87165,0.8706,0.86955,0.8685,0.86745,0.8664,0.86535,0.8643], "format": ".5f", "labelAlign": "left", "labelBaseline": "middle", "labelPadding": 3, "title": null, "zindex": 0}},
  "text": {"field": "v", "type": "quantitative", "format": ".5f"},
  "color": {"condition": [{"test": "datum.k == 'solid'", "value": "#000000"}, {"test": "datum.k == 'dash'", "value": "#121212"}], "value": "#a0a0a8"}
 }},
{"data": {"values": [{"t": "EURGBP,H4"}]},
 "mark": {"type": "point", "shape": "triangle-down", "filled": true, "size": 30, "opacity": 1, "color": "#b4b8c0"},
 "encoding": {
  "x": {"datum": 1.5, "type": "quantitative", "title": null, "scale": {"domain": [-0.375, 307.625], "nice": false, "zero": false, "padding": 0},
   "axis": {"orient": "bottom", "values": [0,16,32,48,64,80,96,112,128,144,160,176,192,208,224,240,256,272,288,304], "labelExpr": "['17 Mar 2023','21 Mar 20:00','24 Mar 12:00','29 Mar 04:00','31 Mar 20:00','5 Apr 12:00','10 Apr 04:00','12 Apr 20:00','17 Apr 12:00','20 Apr 04:00','24 Apr 20:00','27 Apr 12:00','2 May 04:00','4 May 20:00','9 May 12:00','12 May 04:00','16 May 20:00','19 May 12:00','24 May 04:00','26 May 20:00'][round(datum.value/16)]", "labelAlign": "left", "labelBaseline": "top", "labelPadding": 2, "labelOffset": -1, "title": null, "zindex": 1}},
  "y": {"datum": 0.88842, "type": "quantitative", "title": null, "scale": {"domain": [0.8641945, 0.88867], "nice": false, "zero": false, "padding": 0},
   "axis": {"orient": "right", "values": [0.88845,0.8874,0.88635,0.8853,0.88425,0.8832,0.88215,0.8811,0.88005,0.879,0.87795,0.8769,0.87585,0.8748,0.87375,0.8727,0.87165,0.8706,0.86955,0.8685,0.86745,0.8664,0.86535,0.8643], "format": ".5f", "labelAlign": "left", "labelBaseline": "middle", "labelPadding": 3, "title": null, "zindex": 0}}
 }},
{"data": {"values": [{"t": "EURGBP,H4"}]},
 "mark": {"type": "text", "fontSize": 9, "align": "left", "baseline": "middle", "color": "#c8ccd4"},
 "encoding": {
  "x": {"datum": 3.625, "type": "quantitative", "title": null, "scale": {"domain": [-0.375, 307.625], "nice": false, "zero": false, "padding": 0},
   "axis": {"orient": "bottom", "values": [0,16,32,48,64,80,96,112,128,144,160,176,192,208,224,240,256,272,288,304], "labelExpr": "['17 Mar 2023','21 Mar 20:00','24 Mar 12:00','29 Mar 04:00','31 Mar 20:00','5 Apr 12:00','10 Apr 04:00','12 Apr 20:00','17 Apr 12:00','20 Apr 04:00','24 Apr 20:00','27 Apr 12:00','2 May 04:00','4 May 20:00','9 May 12:00','12 May 04:00','16 May 20:00','19 May 12:00','24 May 04:00','26 May 20:00'][round(datum.value/16)]", "labelAlign": "left", "labelBaseline": "top", "labelPadding": 2, "labelOffset": -1, "title": null, "zindex": 1}},
  "y": {"datum": 0.88842, "type": "quantitative", "title": null, "scale": {"domain": [0.8641945, 0.88867], "nice": false, "zero": false, "padding": 0},
   "axis": {"orient": "right", "values": [0.88845,0.8874,0.88635,0.8853,0.88425,0.8832,0.88215,0.8811,0.88005,0.879,0.87795,0.8769,0.87585,0.8748,0.87375,0.8727,0.87165,0.8706,0.86955,0.8685,0.86745,0.8664,0.86535,0.8643], "format": ".5f", "labelAlign": "left", "labelBaseline": "middle", "labelPadding": 3, "title": null, "zindex": 0}},
  "text": {"field": "t"}
 }}
]
}
